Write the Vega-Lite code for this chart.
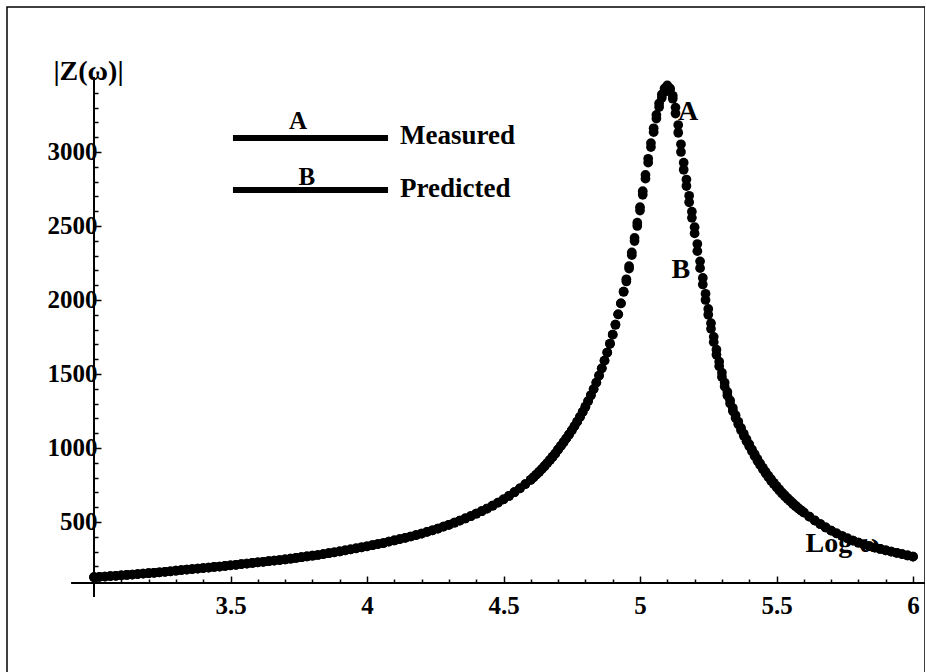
{
  "$schema": "https://vega.github.io/schema/vega-lite/v6.json",
  "width": 918,
  "height": 680,
  "autosize": {"type": "none"},
  "padding": {"left": 7, "top": 7, "right": 0, "bottom": 0},
  "background": "white",
  "config": {"view": {"stroke": "black", "strokeWidth": 1.5}, "font": "Liberation Serif", "axis": {"labelOverlap": false}},
  "resolve": {"axis": {"x": "independent", "y": "independent"}},
  "datasets": {
    "curve": [
      {"x":3.00,"a":127,"b":127},{"x":3.02,"a":129,"b":129},{"x":3.04,"a":131,"b":131},{"x":3.06,"a":134,"b":134},{"x":3.08,"a":136,"b":136},
      {"x":3.10,"a":139,"b":139},{"x":3.12,"a":142,"b":142},{"x":3.14,"a":145,"b":145},{"x":3.16,"a":148,"b":148},{"x":3.18,"a":151,"b":151},
      {"x":3.20,"a":154,"b":154},{"x":3.22,"a":157,"b":157},{"x":3.24,"a":160,"b":160},{"x":3.26,"a":163,"b":163},{"x":3.28,"a":167,"b":167},
      {"x":3.30,"a":171,"b":171},{"x":3.32,"a":175,"b":175},{"x":3.34,"a":179,"b":179},{"x":3.36,"a":182,"b":182},{"x":3.38,"a":185,"b":185},
      {"x":3.40,"a":189,"b":189},{"x":3.42,"a":192,"b":192},{"x":3.44,"a":196,"b":196},{"x":3.46,"a":199,"b":199},{"x":3.48,"a":203,"b":203},
      {"x":3.50,"a":207,"b":207},{"x":3.52,"a":211,"b":211},{"x":3.54,"a":215,"b":215},{"x":3.56,"a":219,"b":219},{"x":3.58,"a":223,"b":223},
      {"x":3.60,"a":227,"b":227},{"x":3.62,"a":231,"b":231},{"x":3.64,"a":235,"b":235},{"x":3.66,"a":239,"b":239},{"x":3.68,"a":243,"b":243},
      {"x":3.70,"a":247,"b":247},{"x":3.72,"a":252,"b":252},{"x":3.74,"a":257,"b":257},{"x":3.76,"a":262,"b":262},{"x":3.78,"a":267,"b":267},
      {"x":3.80,"a":272,"b":272},{"x":3.82,"a":277,"b":277},{"x":3.84,"a":283,"b":283},{"x":3.86,"a":289,"b":289},{"x":3.88,"a":295,"b":295},
      {"x":3.90,"a":301,"b":301},{"x":3.92,"a":308,"b":308},{"x":3.94,"a":315,"b":315},{"x":3.96,"a":322,"b":322},{"x":3.98,"a":329,"b":329},
      {"x":4.00,"a":336,"b":336},{"x":4.02,"a":343,"b":343},{"x":4.04,"a":351,"b":351},{"x":4.06,"a":358,"b":358},{"x":4.08,"a":367,"b":367},
      {"x":4.10,"a":375,"b":375},{"x":4.12,"a":384,"b":384},{"x":4.14,"a":393,"b":393},{"x":4.16,"a":402,"b":402},{"x":4.18,"a":412,"b":412},
      {"x":4.20,"a":422,"b":422},{"x":4.22,"a":433,"b":433},{"x":4.24,"a":444,"b":444},{"x":4.26,"a":456,"b":456},{"x":4.28,"a":469,"b":469},
      {"x":4.30,"a":481,"b":481},{"x":4.32,"a":495,"b":495},{"x":4.34,"a":509,"b":509},{"x":4.36,"a":524,"b":524},{"x":4.38,"a":539,"b":539},
      {"x":4.40,"a":556,"b":556},{"x":4.42,"a":573,"b":573},{"x":4.44,"a":591,"b":591},{"x":4.46,"a":610,"b":610},{"x":4.48,"a":631,"b":631},
      {"x":4.50,"a":653,"b":653},{"x":4.52,"a":676,"b":676},{"x":4.54,"a":701,"b":701},{"x":4.56,"a":727,"b":727},{"x":4.58,"a":756,"b":756},
      {"x":4.60,"a":785,"b":785},{"x":4.61,"a":802,"b":802},{"x":4.62,"a":820,"b":820},{"x":4.63,"a":838,"b":838},{"x":4.64,"a":857,"b":857},
      {"x":4.65,"a":877,"b":877},{"x":4.66,"a":898,"b":898},{"x":4.67,"a":919,"b":919},{"x":4.68,"a":941,"b":941},{"x":4.69,"a":963,"b":963},
      {"x":4.70,"a":990,"b":990},{"x":4.71,"a":1014,"b":1014},{"x":4.72,"a":1039,"b":1039},{"x":4.73,"a":1065,"b":1065},{"x":4.74,"a":1091,"b":1091},
      {"x":4.75,"a":1119,"b":1119},{"x":4.76,"a":1148,"b":1148},{"x":4.77,"a":1178,"b":1178},{"x":4.78,"a":1210,"b":1210},{"x":4.79,"a":1244,"b":1244},
      {"x":4.80,"a":1279,"b":1279},{"x":4.81,"a":1317,"b":1317},{"x":4.82,"a":1356,"b":1356},{"x":4.83,"a":1398,"b":1398},{"x":4.84,"a":1442,"b":1442},
      {"x":4.85,"a":1489,"b":1489},{"x":4.86,"a":1538,"b":1538},{"x":4.87,"a":1590,"b":1590},{"x":4.88,"a":1645,"b":1645},{"x":4.89,"a":1704,"b":1704},
      {"x":4.90,"a":1766,"b":1766},{"x":4.91,"a":1833,"b":1833},{"x":4.92,"a":1903,"b":1903},{"x":4.93,"a":1977,"b":1977},{"x":4.94,"a":2056,"b":2056},
      {"x":4.95,"a":2140,"b":2125},{"x":4.96,"a":2229,"b":2212},{"x":4.97,"a":2322,"b":2303},{"x":4.98,"a":2419,"b":2398},{"x":4.99,"a":2522,"b":2500},
      {"x":5.00,"a":2627,"b":2604},{"x":5.01,"a":2735,"b":2711},{"x":5.02,"a":2845,"b":2820},{"x":5.03,"a":2954,"b":2928},{"x":5.04,"a":3060,"b":3033},
      {"x":5.05,"a":3160,"b":3134},{"x":5.06,"a":3251,"b":3226},{"x":5.07,"a":3328,"b":3304},{"x":5.08,"a":3389,"b":3366},{"x":5.09,"a":3430,"b":3406},
      {"x":5.10,"a":3450,"b":3425},{"x":5.11,"a":3430,"b":3420},{"x":5.12,"a":3360,"b":3380},{"x":5.13,"a":3260,"b":3300},{"x":5.14,"a":3130,"b":3182},
      {"x":5.15,"a":3000,"b":3052},{"x":5.16,"a":2880,"b":2928},{"x":5.17,"a":2770,"b":2814},{"x":5.18,"a":2660,"b":2704},{"x":5.19,"a":2555,"b":2597},
      {"x":5.20,"a":2450,"b":2492},{"x":5.21,"a":2330,"b":2378},{"x":5.22,"a":2215,"b":2261},{"x":5.23,"a":2105,"b":2149},{"x":5.24,"a":2000,"b":2042},
      {"x":5.25,"a":1900,"b":1940},{"x":5.26,"a":1805,"b":1843},{"x":5.27,"a":1715,"b":1751},{"x":5.28,"a":1630,"b":1664},{"x":5.29,"a":1552,"b":1583},
      {"x":5.30,"a":1480,"b":1509},{"x":5.31,"a":1415,"b":1441},{"x":5.32,"a":1355,"b":1379},{"x":5.33,"a":1300,"b":1322},{"x":5.34,"a":1250,"b":1270},
      {"x":5.35,"a":1203,"b":1222},{"x":5.36,"a":1160,"b":1177},{"x":5.37,"a":1120,"b":1136},{"x":5.38,"a":1082,"b":1097},{"x":5.39,"a":1046,"b":1060},
      {"x":5.40,"a":1012,"b":1026},{"x":5.41,"a":978,"b":991},{"x":5.42,"a":945,"b":958},{"x":5.43,"a":914,"b":926},{"x":5.44,"a":884,"b":896},
      {"x":5.45,"a":856,"b":867},{"x":5.46,"a":829,"b":840},{"x":5.47,"a":803,"b":813},{"x":5.48,"a":779,"b":789},{"x":5.49,"a":756,"b":765},
      {"x":5.50,"a":734,"b":743},{"x":5.51,"a":713,"b":721},{"x":5.52,"a":693,"b":700},{"x":5.53,"a":674,"b":681},{"x":5.54,"a":656,"b":662},
      {"x":5.55,"a":639,"b":644},{"x":5.56,"a":622,"b":627},{"x":5.57,"a":606,"b":610},{"x":5.58,"a":591,"b":594},{"x":5.59,"a":577,"b":579},
      {"x":5.60,"a":563,"b":565},{"x":5.62,"a":536,"b":537},{"x":5.64,"a":510,"b":511},{"x":5.66,"a":486,"b":486},{"x":5.68,"a":463,"b":463},
      {"x":5.70,"a":442,"b":442},{"x":5.72,"a":423,"b":423},{"x":5.74,"a":405,"b":405},{"x":5.76,"a":389,"b":389},{"x":5.78,"a":374,"b":374},
      {"x":5.80,"a":360,"b":360},{"x":5.82,"a":348,"b":348},{"x":5.84,"a":337,"b":337},{"x":5.86,"a":327,"b":327},{"x":5.88,"a":318,"b":318},
      {"x":5.90,"a":309,"b":309},{"x":5.92,"a":300,"b":300},{"x":5.94,"a":292,"b":292},{"x":5.96,"a":283,"b":283},{"x":5.98,"a":274,"b":274},
      {"x":6.00,"a":266,"b":266}
    ],
    "axislines": [
      {"x": 2.916, "x2": 6.0439, "y": 87.8, "y2": 87.8},
      {"x": 3.0, "x2": 3.0, "y": -7, "y2": 3507}
    ],
    "legendlines": [
      {"series": "A", "x": 3.509, "x2": 4.077, "y": 3095},
      {"series": "B", "x": 3.509, "x2": 4.077, "y": 2743}
    ],
    "legendletters": [
      {"text": "A", "x": 3.747, "y": 3209},
      {"text": "B", "x": 3.780, "y": 2831}
    ],
    "legendtext": [
      {"text": "Measured", "x": 4.121, "y": 3108},
      {"text": "Predicted", "x": 4.121, "y": 2750}
    ],
    "curvelabels": [
      {"text": "A", "x": 5.176, "y": 3270},
      {"text": "B", "x": 5.150, "y": 2203}
    ]
  },
  "layer": [
    {
      "data": {"name": "axislines"},
      "mark": {"type": "rule", "color": "black", "strokeWidth": 2},
      "encoding": {
        "x": {
          "field": "x", "type": "quantitative",
          "scale": {"domain": [2.6813, 6.0439], "nice": false, "zero": false},
          "axis": {
            "orient": "bottom", "title": null, "offset": -104, "domain": false, "grid": false, "labels": false,
            "values": [3.1,3.2,3.3,3.4,3.6,3.7,3.8,3.9,4.1,4.2,4.3,4.4,4.6,4.7,4.8,4.9,5.1,5.2,5.3,5.4,5.6,5.7,5.8,5.9],
            "tickSize": -4, "tickColor": "black", "tickWidth": 1.5
          }
        },
        "x2": {"field": "x2"},
        "y": {
          "field": "y", "type": "quantitative",
          "scale": {"domain": [-614.9, 3979.7], "nice": false, "zero": false},
          "axis": {
            "orient": "left", "title": null, "offset": -87, "domain": false, "grid": false, "labels": false,
            "values": [100,200,300,400,600,700,800,900,1100,1200,1300,1400,1600,1700,1800,1900,2100,2200,2300,2400,2600,2700,2800,2900,3100,3200,3300,3400],
            "tickSize": -4, "tickColor": "black", "tickWidth": 1.5
          }
        },
        "y2": {"field": "y2"}
      }
    },
    {
      "data": {"name": "curve"},
      "transform": [{"fold": ["a", "b"], "as": ["series", "z"]}],
      "mark": {"type": "point", "filled": true, "size": 95, "color": "black", "opacity": 1},
      "encoding": {
        "x": {
          "field": "x", "type": "quantitative",
          "scale": {"domain": [2.6813, 6.0439], "nice": false, "zero": false},
          "axis": {
            "orient": "bottom",
            "title": "Log ω",
            "titleFont": "Liberation Serif", "titleFontWeight": "bold", "titleFontSize": 28, "titleColor": "black",
            "titleX": 798, "titleY": -40, "titleAlign": "left", "titleBaseline": "middle", "titleAngle": 0,
            "offset": -104, "domain": false, "grid": false,
            "values": [3.5, 4, 4.5, 5, 5.5, 6],
            "tickSize": -7, "tickColor": "black", "tickWidth": 1.5,
            "labelExpr": "'' + datum.value",
            "labelFont": "Liberation Serif", "labelFontWeight": "bold", "labelFontSize": 25, "labelColor": "black",
            "labelPadding": 17, "labelOverlap": false, "labelFlush": false, "labelBound": false
          }
        },
        "y": {
          "field": "z", "type": "quantitative",
          "scale": {"domain": [-614.9, 3979.7], "nice": false, "zero": false},
          "axis": {
            "orient": "left",
            "title": "|Z(ω)|",
            "titleFont": "Liberation Serif", "titleFontWeight": "bold", "titleFontSize": 28, "titleColor": "black",
            "titleX": -6, "titleY": 64, "titleAlign": "center", "titleBaseline": "middle", "titleAngle": 0,
            "offset": -87, "domain": false, "grid": false,
            "values": [500, 1000, 1500, 2000, 2500, 3000],
            "tickSize": -7, "tickColor": "black", "tickWidth": 1.5,
            "labelExpr": "'' + datum.value",
            "labelFont": "Liberation Serif", "labelFontWeight": "bold", "labelFontSize": 25, "labelColor": "black",
            "labelPadding": 4, "labelOverlap": false, "labelBound": false, "labelFlush": false
          }
        },
        "detail": {"field": "series", "type": "nominal"}
      }
    },
    {
      "data": {"name": "legendlines"},
      "mark": {"type": "rule", "color": "black", "strokeWidth": 6},
      "encoding": {
        "x": {"field": "x", "type": "quantitative", "axis": null},
        "x2": {"field": "x2"},
        "y": {"field": "y", "type": "quantitative", "axis": null}
      }
    },
    {
      "data": {"name": "legendletters"},
      "mark": {"type": "text", "font": "Liberation Serif", "fontWeight": "bold", "fontSize": 25, "color": "black", "align": "center", "baseline": "middle"},
      "encoding": {
        "x": {"field": "x", "type": "quantitative", "axis": null},
        "y": {"field": "y", "type": "quantitative", "axis": null},
        "text": {"field": "text"}
      }
    },
    {
      "data": {"name": "legendtext"},
      "mark": {"type": "text", "font": "Liberation Serif", "fontWeight": "bold", "fontSize": 27, "color": "black", "align": "left", "baseline": "middle"},
      "encoding": {
        "x": {"field": "x", "type": "quantitative", "axis": null},
        "y": {"field": "y", "type": "quantitative", "axis": null},
        "text": {"field": "text"}
      }
    },
    {
      "data": {"name": "curvelabels"},
      "mark": {"type": "text", "font": "Liberation Serif", "fontWeight": "bold", "fontSize": 28, "color": "black", "align": "center", "baseline": "middle"},
      "encoding": {
        "x": {"field": "x", "type": "quantitative", "axis": null},
        "y": {"field": "y", "type": "quantitative", "axis": null},
        "text": {"field": "text"}
      }
    }
  ]
}
